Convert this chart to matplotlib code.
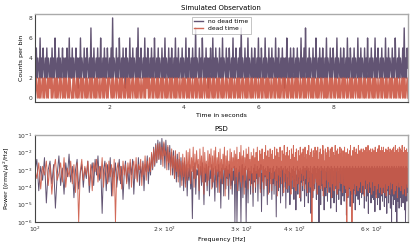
import numpy as np
import matplotlib
matplotlib.use("Agg")
import matplotlib.pyplot as plt

#----------DATA--------
#Counts per bin, 50 bins per second, no dead time
counts_nodead = [
    4,2,5,2,4,3,2,6,2,4,2,5,3,2,4,2,5,2,4,3,2,4,2,5,2,4,2,6,3,2,4,2,5,2,4,2,3,5,2,4,2,4,2,5,3,2,6,2,4,2,
    5,2,4,2,3,5,2,4,1,4,2,6,2,4,3,2,5,2,4,2,5,3,2,4,2,7,2,4,2,5,2,3,4,2,5,2,4,2,6,3,2,4,2,5,2,4,2,5,3,2,
    4,2,5,2,8,2,4,3,2,5,2,4,2,6,3,2,4,2,5,2,4,1,5,2,4,3,2,6,2,4,2,5,2,4,3,2,5,2,7,2,4,2,5,3,2,4,2,6,2,4,
    2,5,3,2,4,2,5,2,4,2,6,3,2,4,2,5,2,4,3,2,5,2,4,2,6,2,4,3,2,5,2,4,2,5,3,2,4,2,6,2,4,2,5,2,3,4,2,5,2,4,
    3,2,6,2,4,2,5,3,2,4,2,5,2,4,2,7,2,4,3,2,5,2,4,2,6,3,2,4,2,5,2,4,1,4,2,5,3,2,6,2,4,2,5,2,4,3,2,5,2,4,
    2,6,2,4,3,2,5,2,4,2,5,3,2,4,2,6,2,4,2,5,3,2,4,2,5,2,7,2,4,3,2,5,2,4,2,6,2,4,3,2,5,2,4,2,5,3,2,4,2,6,
    2,4,2,5,3,2,4,2,6,2,4,3,2,5,2,4,2,5,2,4,3,2,6,2,4,2,5,3,2,4,2,5,2,4,1,4,2,6,3,2,4,2,5,2,4,2,5,3,2,4,
    2,5,2,4,3,2,6,2,4,2,5,2,7,3,2,4,2,5,2,4,3,2,5,2,4,2,6,3,2,4,2,5,2,4,2,5,3,2,4,2,6,2,4,3,2,5,2,4,2,5,
    3,2,4,2,6,2,4,3,2,5,2,4,2,5,3,2,4,2,6,2,4,2,5,3,2,4,2,5,2,4,3,2,6,2,4,2,5,2,4,3,2,5,2,4,2,6,3,2,4,2,
    5,2,4,3,2,6,2,4,2,5,3,2,4,2,5,2,4,3,2,6,2,4,2,5,2,4,3,2,5,2,4,2,6,3,2,4,2,5,2,4,3,2,5,2,7,2,4,2,5,3]
#Counts per bin with dead time
counts_dead = [
    2,0,2,1,0,2,0,2,0,1,2,0,2,0,2,1,0,2,0,2,1,2,0,2,0,1,2,0,2,0,2,0,1,2,0,2,1,0,2,0,2,0,2,1,0,2,0,2,1,0,
    0,2,0,2,1,0,2,0,2,0,1,2,0,2,0,2,1,0,2,0,2,0,1,2,0,2,0,2,1,0,2,0,2,0,2,1,0,2,0,1,2,0,2,0,2,1,0,2,0,2,
    2,1,0,2,0,2,0,1,2,0,2,1,0,2,0,2,0,2,1,0,2,0,1,2,0,2,0,2,0,1,2,0,2,1,0,2,0,2,0,2,1,0,2,0,1,2,0,2,0,2,
    1,2,0,2,0,1,2,0,2,0,2,1,0,2,0,2,0,1,2,0,2,0,2,1,0,2,0,2,0,1,2,0,2,0,2,1,0,2,0,2,0,2,1,0,2,0,1,2,0,2,
    0,2,1,0,2,0,2,0,2,1,0,2,0,1,2,0,2,0,2,1,0,2,0,2,0,1,2,0,2,1,0,2,0,2,0,2,1,0,2,0,2,0,1,2,0,2,0,2,1,0,
    2,0,2,0,1,2,0,2,1,0,2,0,2,0,2,1,0,2,0,1,2,0,2,0,2,0,1,2,0,2,1,0,2,0,2,0,2,1,0,2,0,2,0,1,2,0,2,1,0,2,
    0,1,2,0,2,0,2,1,0,2,0,2,0,2,1,0,2,0,1,2,0,2,0,2,1,0,2,0,2,0,1,2,0,2,0,2,1,0,2,0,2,1,0,2,0,2,0,1,2,0,
    2,0,2,1,0,2,0,1,2,0,2,0,2,0,1,2,0,2,1,0,2,0,2,0,2,1,0,2,0,2,0,1,2,0,2,1,0,2,0,2,0,2,0,1,2,0,2,0,2,1,
    0,2,0,2,1,0,2,0,2,0,1,2,0,2,0,2,1,0,2,0,1,2,0,2,0,2,0,1,2,0,2,1,0,2,0,2,0,2,1,0,2,0,2,0,1,2,0,2,0,2,
    1,0,2,0,2,0,2,1,0,2,0,1,2,0,2,0,2,1,0,2,0,2,0,1,2,0,2,0,2,1,0,2,0,2,0,2,1,0,2,0,1,2,0,2,0,2,0,1,2,0]
#PSD power, log10 in tenths, 600 frequency bins between 100 and 730 Hz
logpow_nodead = [
    -31,-24,-42,-28,-36,-23,-49,-30,-25,-38,-27,-52,-33,-22,-39,-29,-44,-26,-34,-21,-37,-28,-46,-30,-24,-41,-32,-27,-40,-29,
    -35,-25,-43,-31,-26,-39,-24,-33,-22,-36,-28,-55,-30,-25,-42,-27,-37,-23,-45,-29,-34,-26,-40,-31,-24,-38,-28,-47,-32,-25,
    -37,-29,-41,-26,-33,-24,-44,-30,-27,-36,-23,-39,-28,-34,-25,-42,-27,-31,-22,-38,-26,-33,-21,-30,-17,-28,-15,-26,-13,-24,
    -14,-27,-12,-22,-15,-29,-13,-25,-17,-30,-16,-28,-20,-33,-19,-35,-22,-37,-21,-34,-24,-40,-23,-36,-26,-42,-25,-38,-27,-45,
    -29,-36,-27,-41,-31,-58,-28,-35,-26,-44,-30,-33,-27,-47,-32,-28,-39,-26,-34,-50,-29,-37,-27,-42,-31,-28,-45,-30,-35,-27,
    -40,-29,-33,-48,-28,-36,-30,-43,-27,-34,-31,-52,-29,-38,-27,-45,-32,-29,-41,-28,-35,-30,-47,-27,-33,-39,-29,-44,-31,-36,
    -28,-60,-32,-29,-60,-37,-30,-42,-28,-35,-60,-31,-27,-46,-33,-29,-40,-28,-60,-34,-30,-49,-29,-36,-31,-44,-28,-38,-32,-51,
    -29,-37,-27,-43,-31,-35,-28,-48,-30,-33,-29,-41,-27,-54,-32,-36,-28,-45,-30,-34,-29,-39,-31,-50,-28,-36,-30,-43,-29,-35,
    -32,-47,-29,-38,-28,-44,-31,-35,-30,-57,-28,-37,-33,-42,-29,-36,-31,-49,-28,-34,-30,-45,-29,-40,-32,-36,-28,-52,-30,-38,
    -29,-43,-31,-35,-28,-50,-32,-37,-29,-41,-30,-34,-28,-47,-31,-39,-29,-53,-33,-36,-28,-44,-30,-38,-31,-35,-29,-48,-32,-37,
    -30,-42,-28,-36,-31,-51,-29,-38,-32,-45,-28,-35,-30,-49,-29,-37,-31,-43,-28,-55,-32,-36,-29,-46,-30,-39,-28,-41,-31,-34,
    -29,-47,-32,-38,-28,-44,-30,-60,-29,-36,-31,-50,-28,-39,-33,-42,-29,-35,-30,-53,-28,-37,-31,-45,-29,-40,-32,-48,-28,-36,
    -31,-43,-29,-37,-30,-52,-28,-39,-32,-46,-29,-35,-31,-49,-28,-41,-30,-36,-29,-54,-32,-38,-28,-44,-31,-47,-29,-37,-30,-42,
    -28,-50,-31,-36,-29,-45,-32,-39,-28,-48,-30,-37,-29,-43,-31,-56,-28,-38,-30,-46,-29,-41,-32,-35,-28,-51,-30,-39,-29,-44,
    -31,-37,-28,-49,-30,-42,-29,-36,-32,-53,-28,-40,-31,-45,-29,-38,-30,-47,-28,-35,-31,-50,-29,-43,-32,-39,-28,-46,-30,-37,
    -29,-44,-31,-38,-28,-52,-30,-41,-29,-36,-32,-48,-28,-39,-31,-45,-29,-55,-30,-37,-28,-43,-31,-40,-29,-49,-32,-36,-28,-46,
    -30,-39,-29,-47,-31,-42,-28,-54,-30,-37,-29,-44,-32,-40,-28,-50,-31,-36,-29,-46,-30,-41,-28,-53,-32,-38,-29,-45,-31,-39,
    -28,-48,-30,-37,-29,-43,-31,-51,-28,-40,-30,-46,-29,-38,-32,-55,-28,-42,-31,-36,-29,-49,-30,-44,-28,-39,-31,-52,-29,-41,
    -30,-60,-28,-45,-31,-38,-29,-50,-32,-42,-28,-47,-30,-39,-29,-54,-31,-43,-28,-60,-30,-37,-29,-48,-32,-41,-28,-52,-30,-44,
    -29,-39,-31,-46,-28,-51,-30,-42,-29,-37,-32,-49,-28,-44,-31,-40,-29,-53,-30,-38,-60,-45,-28,-41,-31,-48,-29,-36,-30,-43]
logpow_dead = [
    -29,-35,-26,-41,-28,-33,-25,-39,-27,-44,-30,-24,-36,-32,-26,-37,-23,-40,-29,-34,-25,-38,-27,-43,-26,-60,-31,-24,-36,-28,
    -33,-25,-39,-27,-42,-26,-31,-24,-37,-28,-35,-23,-40,-29,-26,-38,-25,-34,-27,-45,-24,-60,-30,-26,-36,-28,-41,-25,-33,-27,
    -38,-26,-32,-24,-40,-28,-25,-35,-23,-37,-27,-30,-24,-39,-26,-33,-22,-36,-25,-31,-23,-31,-20,-29,-18,-27,-16,-25,-15,-24,
    -15,-24,-17,-28,-14,-22,-19,-30,-16,-26,-20,-33,-18,-29,-22,-35,-19,-31,-24,-37,-20,-33,-25,-39,-21,-34,-23,-40,-19,-36,
    -20,-34,-18,-38,-23,-31,-17,-40,-21,-35,-19,-29,-24,-42,-18,-33,-22,-37,-17,-44,-20,-32,-25,-39,-19,-36,-21,-30,-18,-41,
    -22,-37,-19,-33,-17,-40,-23,-31,-20,-43,-18,-35,-24,-38,-21,-30,-17,-45,-22,-34,-19,-39,-25,-32,-18,-41,-20,-36,-23,-29,
    -19,-38,-21,-34,-17,-42,-24,-31,-20,-37,-16,-40,-22,-33,-19,-44,-23,-36,-18,-30,-21,-41,-17,-35,-24,-39,-20,-32,-22,-43,
    -18,-36,-23,-40,-20,-32,-17,-38,-25,-34,-19,-43,-21,-30,-18,-37,-24,-41,-20,-33,-16,-39,-22,-35,-19,-44,-23,-31,-18,-38,
    -21,-42,-19,-35,-24,-31,-17,-39,-22,-36,-18,-45,-20,-33,-23,-40,-17,-34,-25,-38,-19,-30,-21,-43,-16,-37,-22,-32,-20,-41,
    -17,-34,-22,-39,-19,-31,-24,-44,-18,-36,-21,-33,-16,-40,-23,-35,-20,-42,-18,-30,-25,-38,-19,-34,-22,-46,-17,-36,-21,-32,
    -20,-39,-18,-33,-23,-41,-17,-35,-21,-30,-24,-43,-19,-37,-16,-34,-22,-40,-20,-36,-18,-60,-23,-32,-19,-42,-21,-38,-17,-35,
    -22,-37,-19,-44,-17,-32,-24,-39,-20,-35,-18,-41,-23,-30,-21,-38,-16,-45,-19,-33,-25,-40,-18,-36,-22,-31,-20,-43,-17,-37,
    -19,-35,-23,-40,-18,-31,-21,-46,-17,-38,-24,-33,-20,-42,-22,-36,-16,-39,-19,-30,-23,-44,-18,-34,-21,-41,-25,-37,-17,-32,
    -21,-38,-18,-34,-23,-43,-19,-31,-22,-39,-17,-36,-24,-41,-20,-33,-60,-37,-18,-45,-21,-32,-23,-40,-19,-35,-16,-42,-22,-30,
    -60,-36,-19,-41,-22,-33,-17,-38,-24,-44,-20,-31,-18,-39,-23,-35,-21,-42,-16,-34,-25,-40,-19,-37,-22,-30,-18,-43,-20,-36,
    -23,-39,-18,-32,-21,-45,-19,-36,-24,-31,-17,-41,-22,-38,-20,-34,-16,-43,-23,-37,-19,-30,-21,-40,-18,-35,-25,-44,-20,-33,
    -18,-37,-22,-42,-19,-33,-24,-39,-17,-30,-21,-46,-20,-36,-23,-41,-18,-34,-22,-38,-16,-43,-24,-31,-19,-40,-21,-35,-17,-44,
    -22,-34,-19,-40,-17,-36,-23,-43,-20,-31,-25,-38,-18,-45,-21,-33,-19,-41,-24,-35,-17,-39,-22,-30,-20,-44,-18,-37,-23,-32,
    -19,-41,-21,-35,-18,-38,-24,-30,-17,-44,-22,-36,-20,-42,-16,-33,-23,-39,-19,-31,-21,-46,-18,-37,-24,-34,-20,-40,-17,-35,
    -21,-36,-18,-42,-23,-33,-19,-39,-16,-31,-22,-44,-20,-37,-24,-34,-17,-41,-21,-30,-19,-45,-23,-38,-18,-35,-22,-40,-20,-32]

purple = "#5a4b6b"
red = "#cc5a47"

#----------PLOT--------
fig = plt.figure(figsize=(4.15, 2.49), dpi=100)
ax1 = fig.add_axes([0.084, 0.59, 0.899, 0.354])
ax2 = fig.add_axes([0.084, 0.108, 0.899, 0.35])

t_nodead = (np.arange(len(counts_nodead)) + 0.5) / 50
t_dead = (np.arange(len(counts_dead)) + 0.5) / 50
ax1.plot(t_nodead, counts_nodead, color=purple, alpha=0.95, lw=1.0, label="no dead time")
ax1.plot(t_dead, counts_dead, color=red, alpha=0.92, lw=1.0, label="dead time")
ax1.set_xlim(t_nodead[0], t_nodead[-1])
ax1.set_xticks([2, 4, 6, 8])
ax1.set_yticks([0, 2, 4, 6, 8])
ax1.set_title("Simulated Observation", fontsize=5, pad=3)
ax1.set_xlabel("Time in seconds", fontsize=4.5, labelpad=2)
ax1.set_ylabel("Counts per bin", fontsize=4.5, labelpad=3)
leg = ax1.legend(loc="upper center", fontsize=4.3, handlelength=1.5, borderpad=0.4,
                 labelspacing=0.3, fancybox=False)
leg.get_frame().set_edgecolor("#999999")
leg.get_frame().set_linewidth(0.5)

f_nodead = np.linspace(100, 730, len(logpow_nodead))
f_dead = np.linspace(100, 730, len(logpow_dead))
ax2.loglog(f_nodead, 10 ** (np.array(logpow_nodead) / 10), color=purple, alpha=0.95, lw=0.7)
ax2.loglog(f_dead, 10 ** (np.array(logpow_dead) / 10), color=red, alpha=0.9, lw=0.7)
ax2.set_xlim(100, 730)
ax2.set_ylim(1e-6, 1e-1)
ax2.set_title("PSD", fontsize=5, pad=3)
ax2.set_xlabel("Frequency [Hz]", fontsize=4.5, labelpad=2)
ax2.set_ylabel(r"Power $[(\mathrm{rms}/\mu)^2/\mathrm{Hz}]$", fontsize=4.5, labelpad=3)

for ax in (ax1, ax2):
    ax.tick_params(which="both", length=0, labelsize=4.3, pad=2, colors="#333333")
    for side in ("left", "bottom"):
        ax.spines[side].set_color("#444444")
        ax.spines[side].set_linewidth(0.8)
    for side in ("top", "right"):
        ax.spines[side].set_color("#aaaaaa")
        ax.spines[side].set_linewidth(1.0)

fig.savefig("out.png", dpi=100)
